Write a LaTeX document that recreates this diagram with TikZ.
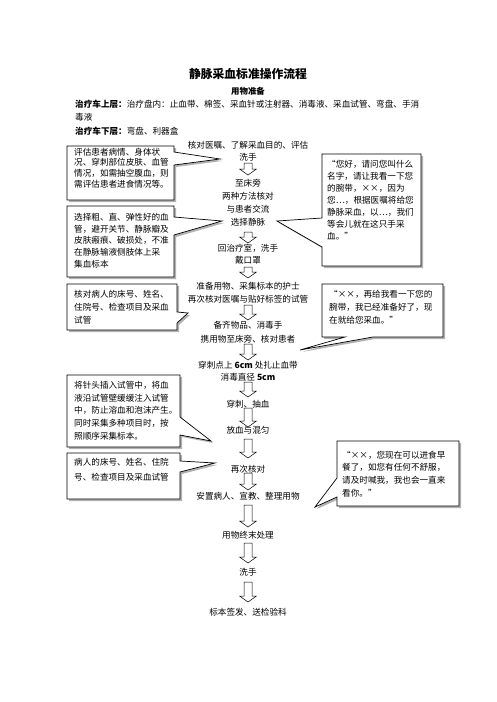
\documentclass[tikz,border=0pt]{standalone}
\usepackage{fontspec}
\newfontfamily\cjk{Noto Sans CJK SC}
\usetikzlibrary{shadows}

\newcommand{\flowarrow}[2]{%
  \draw[arrowline] (244,#1) -- (244,#2-6) -- (239.5,#2-6) -- (248,#2)
    -- (256.5,#2-6) -- (252,#2-6) -- (252,#1) -- cycle;}

\begin{document}
\begin{tikzpicture}[x=1pt, y=-1pt,
    txt/.style={font=\cjk\fontsize{8.6}{12}\selectfont, inner sep=0pt, align=center},
    boxtxt/.style={font=\cjk\fontsize{8.6}{#1}\selectfont, inner sep=0pt, align=left, anchor=west},
    note/.style={draw, fill=white, line width=0.7pt,
      drop shadow={shadow xshift=2pt, shadow yshift=-2pt, fill=gray!60, opacity=1}},
    arrowline/.style={line width=0.5pt}]
    \useasboundingbox (0,0) rectangle (496,702);
\node[txt, font=\cjk\bfseries\fontsize{11.8}{14}\selectfont] (title) at (248,74) {静脉采血标准操作流程};
\node[txt, font=\cjk\bfseries\fontsize{8.4}{10}\selectfont] (prep) at (248,91) {用物准备};
\node[txt, anchor=west] (upper) at (75,104) {\textbf{治疗车上层：}治疗盘内：止血带、棉签、采血针或注射器、消毒液、采血试管、弯盘、手消};
\node[txt, anchor=west] (upper2) at (75,117) {毒液};
\node[txt, anchor=west] (lower) at (75,131) {\textbf{治疗车下层：}弯盘、利器盒};
    \draw[note] (67,146) -- (174,146) -- (174,152) -- (220,159) -- (174,165) -- (174,200) -- (67,200) -- cycle;
    \draw[note] (67,206) -- (174,206) -- (174,217) -- (222,221) -- (174,235) -- (174,277) -- (67,277) -- cycle;
    \draw[note] (67,284) -- (177,284) -- (177,312) -- (188,313) -- (177,323) -- (177,330) -- (67,330) -- cycle;
    \draw[note] (67,375) -- (180,375) -- (180,417) -- (211,441) -- (180,435) -- (180,447) -- (67,447) -- cycle;
    \draw[note] (67,453) -- (180,453) -- (180,461) -- (215,463) -- (180,472) -- (180,499) -- (67,499) -- cycle;
    \draw[note] (322,154) -- (421,154) -- (421,266) -- (322,266) -- (322,247) -- (277,221) -- (322,218) -- cycle;
    \draw[note] (322,284) -- (443,284) -- (443,337) -- (373,337) -- (300,350) -- (345,337) -- (322,337) -- cycle;
    \draw[note] (337,441) -- (459,441) -- (459,506) -- (337,506) -- (337,497) -- (315,507) -- (337,478) -- cycle;
\node[boxtxt=10.7] (assess) at (74,168) {评估患者病情、身体状\\况、穿刺部位皮肤、血管\\情况，如需抽空腹血，则\\需评估患者进食情况等。};
\node[boxtxt=11.7] (vein) at (74,240.5) {选择粗、直、弹性好的血\\管，避开关节、静脉瓣及\\皮肤瘢痕、破损处，不准\\在静脉输液侧肢体上采\\集血标本};
\node[boxtxt=13] (check) at (74,307) {核对病人的床号、姓名、\\住院号、检查项目及采血\\试管};
\node[boxtxt=12.75] (inject) at (74,410.5) {将针头插入试管中，将血\\液沿试管壁缓缓注入试管\\中，防止溶血和泡沫产生。\\同时采集多种项目时，按\\照顺序采集标本。};
\node[boxtxt=15] (recheck) at (74,469.5) {病人的床号、姓名、住院\\号、检查项目及采血试管};
\node[boxtxt=12] (greet) at (327,200.5) {“您好，请问您叫什么\\名字，请让我看一下您\\的腕带，××，因为\\您…，根据医嘱将给您\\静脉采血，以…，我们\\等会儿就在这只手采\\血。”};
\node[boxtxt=13] (again) at (329,307) {“××，再给我看一下您的\\腕带，我已经准备好了，现\\在就给您采血。”};
\node[boxtxt=12.7] (after) at (342,474) {“××，您现在可以进食早\\餐了，如您有任何不舒服，\\请及时喊我，我也会一直来\\看你。”};
\node[txt] (s1) at (248,151) {核对医嘱、了解采血目的、评估\\洗手};
\node[txt, font=\cjk\fontsize{8.6}{13}\selectfont] (s2) at (248,202.5) {至床旁\\两种方法核对\\与患者交流\\选择静脉};
\node[txt] (s3) at (248,254) {回治疗室，洗手\\戴口罩};
\node[txt, font=\cjk\fontsize{8.6}{13}\selectfont] (s4) at (248,292.5) {准备用物、采集标本的护士\\再次核对医嘱与贴好标签的试管};
\node[txt, font=\cjk\fontsize{8.6}{14}\selectfont] (s5) at (248,332) {备齐物品、消毒手\\携用物至床旁、核对患者};
\node[txt] (s6) at (248,371) {穿刺点上 {\bfseries 6cm} 处扎止血带\\消毒直径 {\bfseries 5cm}};
\node[txt] (s7) at (248,404) {穿刺、抽血};
\node[txt] (s8) at (248,430) {放血与混匀};
\node[txt] (s9) at (248,469) {再次核对};
\node[txt] (s10) at (248,496) {安置病人、宣教、整理用物};
\node[txt] (s11) at (248,535) {用物终末处理};
\node[txt] (s12) at (248,572) {洗手};
\node[txt] (s13) at (248,612) {标本签发、送检验科};
    \flowarrow{163}{175}
    \flowarrow{232}{243}
    \flowarrow{267}{278}
    \flowarrow{305}{320}
    \flowarrow{344}{360}
    \flowarrow{382}{397}
    \flowarrow{408}{427}
    \flowarrow{439}{458}
    \flowarrow{473}{490}
    \flowarrow{505}{527}
    \flowarrow{543}{563}
    \flowarrow{582}{602}
    \end{tikzpicture}
\end{document}
